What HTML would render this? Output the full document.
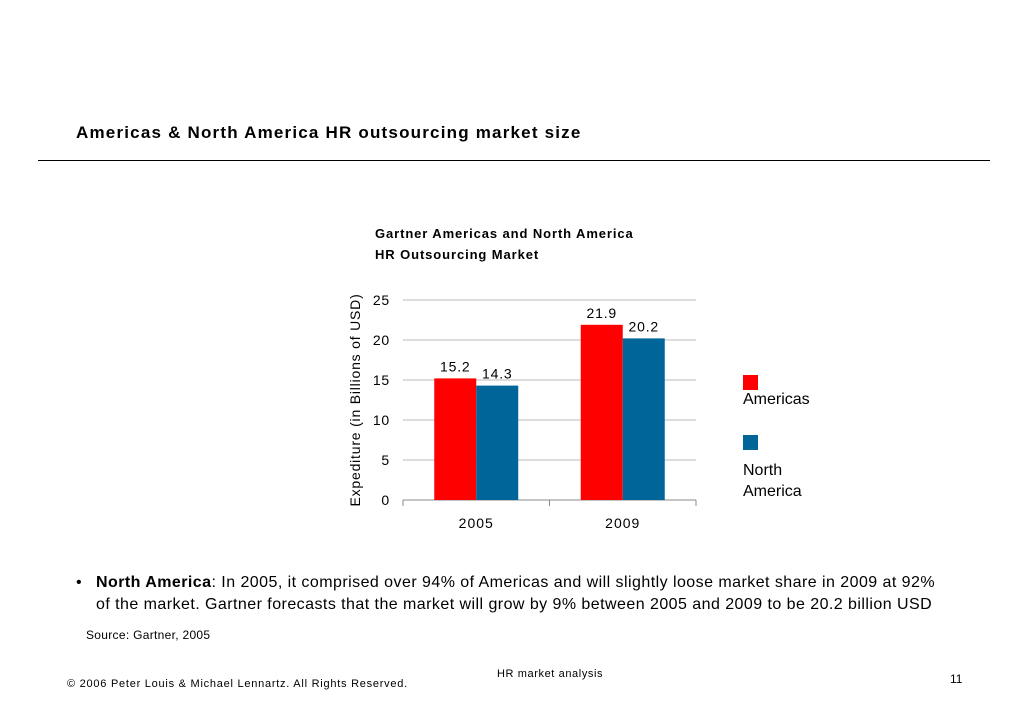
<!DOCTYPE html>
<html><head><meta charset="utf-8"><style>
body{margin:0;width:1030px;height:728px;background:#fff;font-family:"Liberation Sans",sans-serif;position:relative;overflow:hidden}
.a{position:absolute;white-space:nowrap;color:#000}
</style></head><body>
<div class="a" style="left:76px;top:123px;font-size:17px;font-weight:bold;letter-spacing:1.2px">Americas &amp; North America HR outsourcing market size</div>
<div class="a" style="left:38px;top:160px;width:952px;height:1px;background:#000"></div>
<div class="a" style="left:375px;top:223px;font-size:13px;font-weight:bold;line-height:21px;letter-spacing:0.9px">Gartner Americas and North America<br>HR Outsourcing Market</div>
<svg class="a" style="left:0;top:0" width="1030" height="728"></svg>
<div class="a" style="left:743px;top:375px;width:15px;height:15px;background:#ff0000"></div>
<div class="a" style="left:743px;top:391px;font-size:16px">Americas</div>
<div class="a" style="left:743px;top:435px;width:15px;height:15px;background:#006699"></div>
<div class="a" style="left:743px;top:460px;font-size:16px;line-height:21px">North<br>America</div>
<div class="a" style="left:76px;top:572px;font-size:16px;line-height:22px;letter-spacing:0.45px"><span style="display:inline-block;width:20px">•</span><b>North America</b>: In 2005, it comprised over 94% of Americas and will slightly loose market share in 2009 at 92%<br><span style="display:inline-block;width:20px"></span>of the market. Gartner forecasts that the market will grow by 9% between 2005 and 2009 to be 20.2 billion USD</div>
<div class="a" style="left:86px;top:628px;font-size:12px;letter-spacing:0.3px">Source: Gartner, 2005</div>
<div class="a" style="left:497px;top:668px;font-size:11px;letter-spacing:0.6px">HR market analysis</div>
<div class="a" style="left:67px;top:678px;font-size:11px;letter-spacing:0.75px">© 2006 Peter Louis &amp; Michael Lennartz. All Rights Reserved.</div>
<div class="a" style="left:950px;top:672px;font-size:12px">11</div>
<script>
const categories=["2005","2009"];
const americas=[15.2,21.9];
const northAmerica=[14.3,20.2];
const ticks=[0,5,10,15,20,25];
const ns="http://www.w3.org/2000/svg";
const svg=document.querySelector('svg');
const x0=403,x1=696,y0=500,yMax=25,pxPerUnit=8;
const y=v=>y0-v*pxPerUnit;
const bw=(x1-x0)/categories.length;
function el(t,a,txt){const e=document.createElementNS(ns,t);for(const k in a)e.setAttribute(k,a[k]);if(txt!==undefined)e.textContent=txt;svg.appendChild(e);return e;}
ticks.forEach(t=>{
  const g=el('line',{x1:x0,x2:x1,y1:y(t),y2:y(t),stroke:t===0?'#888':'#bbb','stroke-width':1});
  
  
  const l=el('text',{x:390,y:y(t)+5,'text-anchor':'end','font-size':14,'font-family':'Liberation Sans','letter-spacing':0.8},t);
  
  
});
for(let i=0;i<=categories.length;i++){const tk=el('line',{x1:x0+i*bw,x2:x0+i*bw,y1:y0,y2:y0+6,stroke:'#888'});

}
categories.forEach((c,i)=>{
  const cx=x0+bw*(i+0.5);
  const r=el('rect',{x:cx-42,y:y(americas[i]),width:42,height:americas[i]*pxPerUnit,fill:'#ff0000'});
  
  
  const b=el('rect',{x:cx,y:y(northAmerica[i]),width:42,height:northAmerica[i]*pxPerUnit,fill:'#006699'});
  
  
  const t1=el('text',{x:cx-21,y:y(americas[i])-7,'text-anchor':'middle','font-size':14,'font-family':'Liberation Sans','letter-spacing':0.8},americas[i].toFixed(1));
  
  
  const t2=el('text',{x:cx+21,y:y(northAmerica[i])-7,'text-anchor':'middle','font-size':14,'font-family':'Liberation Sans','letter-spacing':0.8},northAmerica[i].toFixed(1));
  
  
  const xl=el('text',{x:cx,y:528,'text-anchor':'middle','font-size':14,'font-family':'Liberation Sans','letter-spacing':1},c);
  
  
});
const yt=el('text',{x:0,y:0,transform:'translate(360,400) rotate(-90)','text-anchor':'middle','font-size':14,'font-family':'Liberation Sans','letter-spacing':0.8},'Expediture (in Billions of USD)');


</script>
</body></html>
